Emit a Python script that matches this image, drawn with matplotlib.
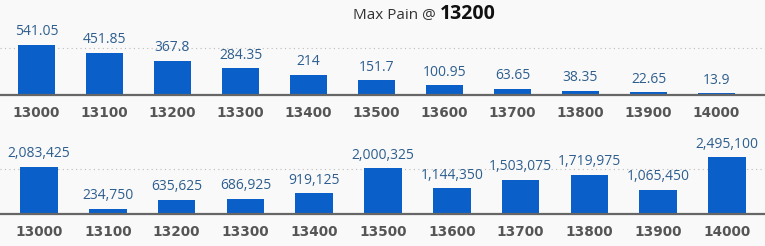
import matplotlib.pyplot as plt

strikes = ["13000", "13100", "13200", "13300", "13400", "13500",
           "13600", "13700", "13800", "13900", "14000", "14100"]
pain_values = [541.05, 451.85, 367.8, 284.35, 214, 151.7, 100.95, 63.65, 38.35, 22.65, 13.9]
pain_labels = ["541.05", "451.85", "367.8", "284.35", "214", "151.7",
               "100.95", "63.65", "38.35", "22.65", "13.9"]
oi_values = [2083425, 234750, 635625, 686925, 919125, 2000325,
             1144350, 1503075, 1719975, 1065450, 2495100]
max_pain = "13200"

bg = "#f9f9f9"
bar_color = "#0a60c8"
label_color = "#2e5e8e"
tick_color = "#555555"

plt.rcParams["font.family"] = ["Open Sans", "DejaVu Sans"]

fig = plt.figure(figsize=(7.65, 2.46), dpi=100, facecolor=bg)
W, H = 765, 246


def panel(rect, values, labels, ticks, xlim, width, ylim, grid_step):
    ax = fig.add_axes(rect, facecolor=bg)
    x = list(range(len(values)))
    bars = ax.bar(x, values, width=width, color=bar_color, zorder=3)
    ax.bar_label(bars, labels=labels, padding=4, color=label_color, fontsize=10)
    ax.set_xticks(range(len(ticks)))
    ax.set_xticklabels(ticks, fontweight="bold", fontsize=9.8, color=tick_color,
                       family="DejaVu Sans")
    ax.set_xlim(*xlim)
    ax.set_ylim(*ylim)
    ax.tick_params(axis="x", length=0, pad=8)
    ax.set_yticks([grid_step])
    ax.tick_params(axis="y", length=0, labelleft=False)
    ax.grid(axis="y", linestyle=(0, (1, 3)), color="#bbbbbb", linewidth=0.8)
    for s in ("top", "left", "right"):
        ax.spines[s].set_visible(False)
    ax.spines["bottom"].set_color("#666666")
    ax.spines["bottom"].set_linewidth(1.6)
    ax.spines["bottom"].set_zorder(4)
    return ax


# top chart: pain value per strike
panel([0, 1 - 94.5 / H, 1, (94.5 - 30) / H], pain_values, pain_labels, strikes,
      (-36.5 / 68, (765 - 36.5) / 68), 37 / 68, (0, 64.5 / 0.0924), 500)

# bottom chart: open interest per strike
oi_labels = [f"{v:,}" for v in oi_values]
panel([0, 1 - 214.3 / H, 1, (214.3 - 140) / H], oi_values, oi_labels, strikes[:11],
      (-39 / 68.8, (765 - 39) / 68.8), 37.7 / 68.8, (0, 74.3 / 22.9e-6), 2000000)

fig.text(436 / W, 1 - 19 / H, "Max Pain @", ha="right", va="baseline",
         fontsize=11, color="#333333")
fig.text(440 / W, 1 - 19 / H, max_pain, ha="left", va="baseline",
         fontsize=14, fontweight="bold", color="#111111")

fig.savefig("out.png", dpi=100, facecolor=bg)
